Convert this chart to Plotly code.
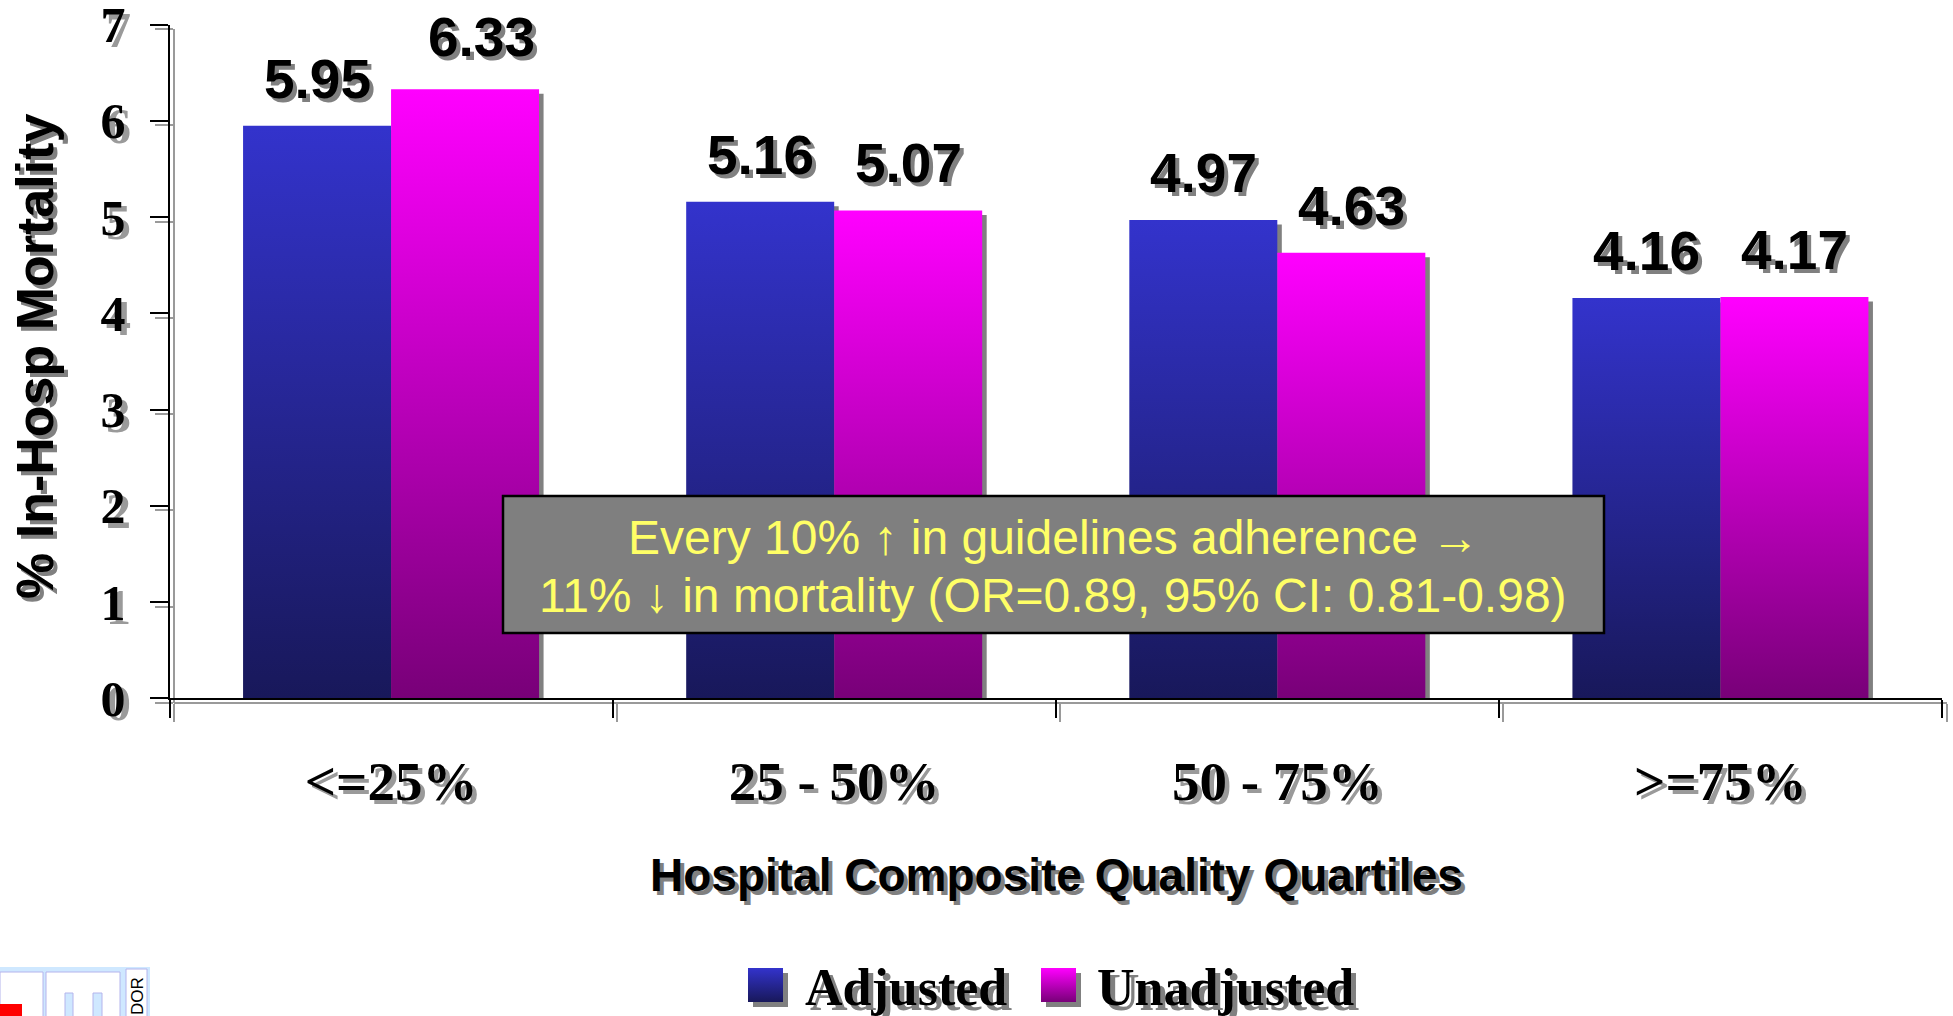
import plotly.graph_objects as go

# ---- data -------------------------------------------------------------
categories = ["<=25%", "25 - 50%", "50 - 75%", ">=75%"]
adjusted = [5.95, 5.16, 4.97, 4.16]
unadjusted = [6.33, 5.07, 4.63, 4.17]
y_ticks = [0, 1, 2, 3, 4, 5, 6, 7]
series_names = ["Adjusted", "Unadjusted"]

# ---- canvas geometry (pixels) ----------------------------------------
W, H = 1953, 1016
L, R, T, B = 169.5, 1942, 24.7, 698.3      # plot area edges
SH = 4.5                                  # drop-shadow offset
BAR_W = 0.334                             # bar width in category units

BLUE_TOP, BLUE_BOT = "#3333CC", "#18185A"
PINK_TOP, PINK_BOT = "#FF00FF", "#780078"
SHADOW = "#808080"
AX_SHADOW = "#9A9A9A"
SERIF = "Liberation Serif"
SANS = "Liberation Sans"


def px(x):
    return x / W


def py(y):
    return 1 - y / H


# data-unit size of the drop shadow
dx = SH / (R - L) * 4
dy = SH / (B - T) * 7

fig = go.Figure()

# placeholder trace that carries the grey shadow axes
fig.add_trace(go.Scatter(x=[None], y=[None], xaxis="x", yaxis="y",
                         showlegend=False, hoverinfo="skip"))

series = [
    (series_names[0], adjusted, -BAR_W, BLUE_TOP, BLUE_BOT),
    (series_names[1], unadjusted, 0.0, PINK_TOP, PINK_BOT),
]

for name, values, off, top, bot in series:
    # shadows for this series
    sx, sy = [], []
    for i, v in enumerate(values):
        x0, x1 = i + off + dx, i + off + BAR_W + dx
        sx += [x0, x1, x1, x0, x0, None]
        sy += [-dy, -dy, v - dy, v - dy, -dy, None]
    fig.add_trace(go.Scatter(
        x=sx, y=sy, xaxis="x2", yaxis="y2", mode="lines", fill="toself",
        fillcolor=SHADOW, line=dict(width=0, color="rgba(0,0,0,0)"),
        showlegend=False, hoverinfo="skip"))
    # gradient-filled bars
    for i, v in enumerate(values):
        x0, x1 = i + off, i + off + BAR_W
        fig.add_trace(go.Scatter(
            x=[x0, x1, x1, x0, x0], y=[0, 0, v, v, 0],
            xaxis="x2", yaxis="y2", mode="lines", fill="toself",
            fillgradient=dict(type="vertical", start=0, stop=v,
                              colorscale=[[0, bot], [1, top]]),
            line=dict(width=0, color="rgba(0,0,0,0)"),
            name=name, showlegend=False,
            hovertemplate=f"{name}<br>{categories[i]}: {v:.2f}<extra></extra>"))

# legend swatches (pixel-space helper axes)
legend_items = [
    (series_names[0], 748, BLUE_TOP, BLUE_BOT, 803),
    (series_names[1], 1041, PINK_TOP, PINK_BOT, 1095),
]
SW_T, SW_B, SW_SIZE = 968, 1002, 35
for name, x0, top, bot, tx in legend_items:
    x1 = x0 + SW_SIZE
    fig.add_trace(go.Scatter(
        x=[x0 + 5, x1 + 5, x1 + 5, x0 + 5, x0 + 5],
        y=[SW_B + 5, SW_B + 5, SW_T + 5, SW_T + 5, SW_B + 5],
        xaxis="x3", yaxis="y3", mode="lines", fill="toself", fillcolor=SHADOW,
        line=dict(width=0, color="rgba(0,0,0,0)"), showlegend=False, hoverinfo="skip"))
    fig.add_trace(go.Scatter(
        x=[x0, x1, x1, x0, x0], y=[SW_B, SW_B, SW_T, SW_T, SW_B],
        xaxis="x3", yaxis="y3", mode="lines", fill="toself",
        fillgradient=dict(type="vertical", start=SW_B, stop=SW_T,
                          colorscale=[[0, bot], [1, top]]),
        line=dict(width=0, color="rgba(0,0,0,0)"), showlegend=False, hoverinfo="skip"))

# ---- annotations --------------------------------------------------------
annotations = []


def shadowed(text, x, y, font, xref="paper", yref="paper", shadow=4,
             xanchor="center", yanchor="middle", **kw):
    base = dict(text=text, x=x, y=y, xref=xref, yref=yref, showarrow=False,
                xanchor=xanchor, yanchor=yanchor)
    ys = kw.pop("yshift", 0)
    xs = kw.pop("xshift", 0)
    annotations.append(dict(base, font=dict(font, color=SHADOW),
                            xshift=xs + shadow, yshift=ys - shadow, **kw))
    annotations.append(dict(base, font=dict(font, color="black"),
                            xshift=xs, yshift=ys, **kw))


label_font = dict(family=SANS, size=55, weight="bold")
label_nudge = {(series_names[1], 0): (16, 5)}
for name, values, off, _, _ in series:
    for i, v in enumerate(values):
        nx, ny = label_nudge.get((name, i), (0, 0))
        shadowed(f"{v:.2f}", i + off + BAR_W / 2, v, label_font,
                 xref="x2", yref="y2", yshift=47 + ny, xshift=nx)

shadowed("% In-Hosp Mortality", px(35), py(357),
         dict(family=SANS, size=52, weight="bold"), textangle=-90)
shadowed("Hospital Composite Quality Quartiles", px(1056), py(875),
         dict(family=SANS, size=46, weight="bold"))

for name, x0, _, _, tx in legend_items:
    shadowed(name, px(tx), py(987), dict(family=SERIF, size=52, weight="bold"),
             xanchor="left", shadow=5)

box_font = dict(family=SANS, size=48, color="#FFFF66")
annotations.append(dict(text="Every 10% \u2191 in guidelines adherence \u2192",
                        x=px(1053), y=py(537), xref="paper", yref="paper",
                        xanchor="center", yanchor="middle",
                        showarrow=False, font=box_font))
annotations.append(dict(text="11% \u2193 in mortality (OR=0.89, 95% CI: 0.81-0.98)",
                        x=px(1053), y=py(595), xref="paper", yref="paper",
                        xanchor="center", yanchor="middle",
                        showarrow=False, font=box_font))
annotations.append(dict(text="DOR", x=px(137), y=py(996), xref="paper", yref="paper",
                        xanchor="center", yanchor="middle",
                        showarrow=False, textangle=-90,
                        font=dict(family=SANS, size=17, color="black")))

# ---- shapes: callout box and corner logo ----------------------------------
def prect(x0, y0, x1, y1, fill, line=None, lw=0, layer="above"):
    return dict(type="rect", xref="paper", yref="paper",
                x0=px(x0), x1=px(x1), y0=py(y1), y1=py(y0),
                fillcolor=fill, line=dict(color=line or fill, width=lw),
                layer=layer)


LOGO_BG = "#CFE8FF"
LOGO_EDGE = "#B4B4EC"
shapes = [
    prect(503, 496, 1604, 633, "#7F7F7F", "black", 2.5),
    prect(0, 967, 150, 1016, LOGO_BG),
    prect(0, 972, 43, 1020, "white", LOGO_EDGE, 1),
    prect(0, 1004, 22, 1016, "#FF0000"),
    prect(46, 972, 120, 1020, "white", LOGO_EDGE, 1),
    prect(65, 993, 73, 1020, LOGO_BG, LOGO_EDGE, 1),
    prect(93, 993, 102, 1020, LOGO_BG, LOGO_EDGE, 1),
    prect(126, 969, 147, 1020, "white", LOGO_EDGE, 1),
]

# ---- axes ----------------------------------------------------------------
tick_font_y = dict(family=SERIF, size=50, weight="bold")
tick_font_x = dict(family=SERIF, size=55, weight="bold")
bounds = [i - 0.5 for i in range(len(categories) + 1)]


def x_axis(color, domain, **kw):
    return dict(domain=domain, range=[-0.5, len(categories) - 0.5],
                showline=True, linecolor=color, linewidth=2,
                tickmode="array", tickvals=list(range(len(categories))),
                ticktext=categories, ticks="", ticklabelstandoff=34,
                ticklabeloverflow="allow",
                tickfont=dict(tick_font_x, color=color),
                minor=dict(tickmode="array", tickvals=bounds, ticks="outside",
                           ticklen=18, tickwidth=2, tickcolor=color),
                showgrid=False, zeroline=False, fixedrange=True,
                automargin=False, **kw)


def y_axis(color, domain, **kw):
    return dict(domain=domain, range=[0, 7], showline=True, linecolor=color,
                linewidth=2, tickmode="array", tickvals=y_ticks,
                ticks="outside", ticklen=18, tickwidth=2, tickcolor=color,
                ticklabelstandoff=14, ticklabeloverflow="allow",
                tickfont=dict(tick_font_y, color=color),
                showgrid=False, zeroline=False, fixedrange=True,
                automargin=False, **kw)


fig.update_layout(
    width=W, height=H,
    margin=dict(l=0, r=0, t=0, b=0, pad=0, autoexpand=False),
    paper_bgcolor="white", plot_bgcolor="rgba(0,0,0,0)",
    showlegend=False,
    xaxis=x_axis(AX_SHADOW, [px(L + SH), px(R + SH)], anchor="free",
                 position=py(B + SH)),
    yaxis=y_axis(AX_SHADOW, [py(B + SH), py(T + SH)], anchor="free",
                 position=px(L + SH)),
    xaxis2=x_axis("black", [px(L), px(R)], anchor="y2"),
    yaxis2=y_axis("black", [py(B), py(T)], anchor="x2"),
    xaxis3=dict(domain=[px(730), px(1100)], range=[730, 1100], visible=False,
                anchor="y3", fixedrange=True),
    yaxis3=dict(domain=[py(1012), py(960)], range=[1012, 960], visible=False,
                anchor="x3", fixedrange=True),
    annotations=annotations,
    shapes=shapes,
)

fig.write_html("out.html", config={"displayModeBar": False})
